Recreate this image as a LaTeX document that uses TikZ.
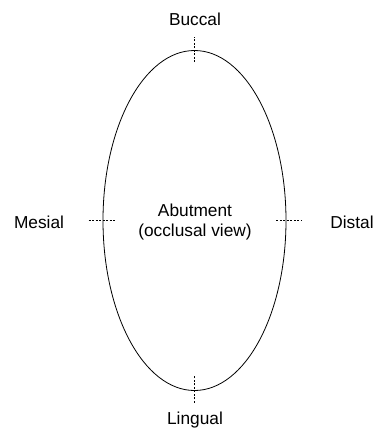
\documentclass[tikz,border=0pt]{standalone}
\usepackage{fontspec}
\setmainfont{Liberation Sans}
\usetikzlibrary{shapes.geometric}
\begin{document}
\begin{tikzpicture}[x=1pt,y=-1pt,
  lbl/.style={inner sep=0pt,font=\fontsize{17.3}{20.5}\selectfont},
  tick/.style={line width=0.8pt,dash pattern=on 2pt off 1.5pt},
  outline/.style={line width=0.8pt}]
\useasboundingbox (0,0) rectangle (378,432);
\node[outline,draw,ellipse,minimum width=183pt,minimum height=340pt,inner sep=0pt] (abut) at (194.5,220.5) {};
\node[lbl,align=center] (abuttxt) at (195,222) {Abutment\\(occlusal view)};
\coordinate (t1) at ([yshift=-12pt]abut.north);
\coordinate (t2) at ([yshift=13pt]abut.north);
\coordinate (b1) at ([yshift=-12pt]abut.south);
\coordinate (b2) at ([yshift=15pt]abut.south);
\coordinate (l1) at ([xshift=-14pt]abut.west);
\coordinate (l2) at ([xshift=12pt]abut.west);
\coordinate (r1) at ([xshift=-10pt]abut.east);
\coordinate (r2) at ([xshift=16pt]abut.east);
\draw[tick] (t1) -- (t2);
\draw[tick] (b1) -- (b2);
\draw[tick] (l1) -- (l2);
\draw[tick] (r1) -- (r2);
\node[lbl] (buccal) at (195,19) {Buccal};
\node[lbl] (lingual) at (195,420) {Lingual};
\node[lbl] (mesial) at (39,222) {Mesial};
\node[lbl] (distal) at (352,222) {Distal};
\end{tikzpicture}
\end{document}
